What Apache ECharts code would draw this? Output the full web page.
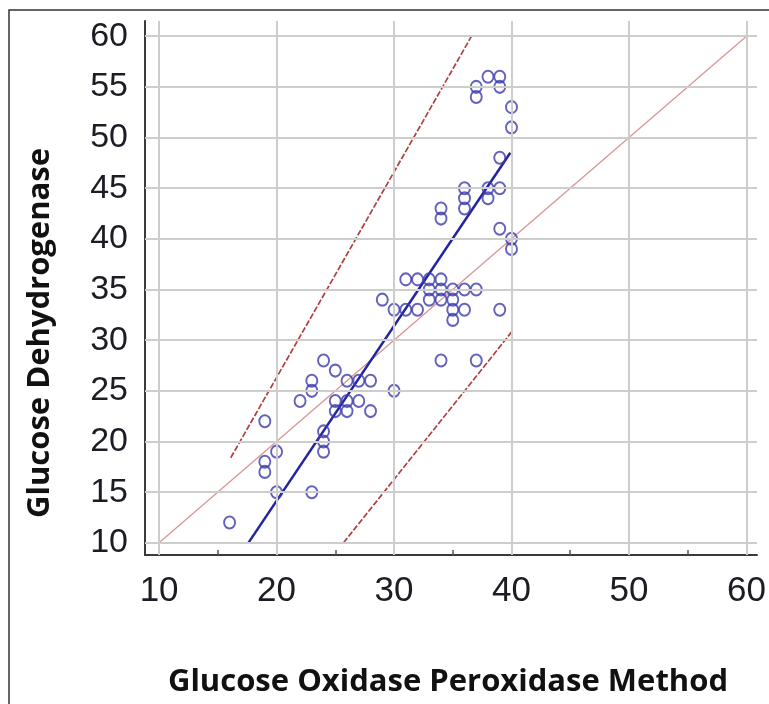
<!DOCTYPE html>
<html>
<head>
<meta charset="utf-8">
<script src="https://cdn.jsdelivr.net/npm/echarts@6/dist/echarts.min.js"></script>
<style>
html, body { margin: 0; padding: 0; background: #fff; }
#myChart { width: 769px; height: 704px; }
</style>
</head>
<body>
<div id="myChart"></div>
<script>
// tick values
const xTicks = [10, 20, 30, 40, 50, 60];
const xMinorTicks = [10, 15, 20, 25, 30, 35, 40, 45, 50, 55, 60];
const yTicks = [10, 15, 20, 25, 30, 35, 40, 45, 50, 55, 60];

// Glucose Oxidase Peroxidase (x) vs Glucose Dehydrogenase (y)
const gopValues = [16, 19, 19, 19, 20, 20, 23,
    22, 23, 23, 24, 25, 24, 24, 24,
    25, 26, 27, 25, 26, 28, 26, 27, 28, 30,
    29, 30, 31, 32, 31, 32, 33, 34, 33, 33, 34, 34, 35, 36, 37, 35, 35, 36, 35, 39, 34, 37,
    34, 34, 36, 36, 36, 38, 38, 39, 39, 39, 40, 40, 40, 40, 37, 37, 38, 39, 39];
const gdhValues = [12, 22, 18, 17, 19, 15, 15,
    24, 26, 25, 28, 27, 21, 20, 19,
    24, 24, 24, 23, 23, 23, 26, 26, 26, 25,
    34, 33, 33, 33, 36, 36, 36, 36, 35, 34, 35, 34, 35, 35, 35, 34, 33, 33, 32, 33, 28, 28,
    43, 42, 45, 44, 43, 45, 44, 45, 48, 41, 40, 39, 53, 51, 55, 54, 56, 56, 55];

// reference lines (end points)
const identityLine = [[10, 10], [60, 60]];
const upperLimit = [[16.1, 18.4], [36.6, 60]];
const lowerLimit = [[25.7, 10], [40, 30.8]];
const regressionLine = [[17.6, 10], [39.9, 48.5]];

let myChart = echarts.init(document.getElementById('myChart'));

let points = gopValues.map((x, i) => [x, gdhValues[i]]);

let gridLines = [];
xTicks.forEach(v => gridLines.push({ xAxis: v }));
yTicks.forEach(v => gridLines.push({ yAxis: v }));

let option = {
    animation: false,
    backgroundColor: '#fff',
    grid: { left: 145, top: 21, right: 12, bottom: 149 },
    xAxis: {
        type: 'value',
        min: 8.8,
        max: 60.9,
        axisLine: { show: true, lineStyle: { color: '#3a3a3a', width: 2 } },
        axisTick: { show: true, inside: true, length: 5, customValues: xMinorTicks, lineStyle: { color: '#555', width: 1.5 } },
        axisLabel: { customValues: xTicks, fontSize: 35, color: '#1c1c24', margin: 19, fontFamily: 'Liberation Sans' },
        splitLine: { show: false }
    },
    yAxis: {
        type: 'value',
        min: 8.8,
        max: 61.5,
        axisLine: { show: true, lineStyle: { color: '#3a3a3a', width: 2 } },
        axisTick: { show: true, inside: true, length: 12, customValues: yTicks, lineStyle: { color: '#555', width: 1.5 } },
        axisLabel: { customValues: yTicks, fontSize: 34, color: '#1c1c24', margin: 17, fontFamily: 'Liberation Sans' },
        splitLine: { show: false }
    },
    graphic: [
        {
            type: 'rect',
            shape: { x: 9, y: 10, width: 780, height: 720 },
            style: { fill: 'none', stroke: '#333', lineWidth: 1.5 },
            z: 100
        },
        {
            type: 'text',
            x: 40,
            y: 333,
            rotation: Math.PI / 2,
            style: {
                text: 'Glucose Dehydrogenase',
                font: 'bold 31px "Open Sans"',
                fill: '#111',
                textAlign: 'center',
                textVerticalAlign: 'middle'
            }
        },
        {
            type: 'text',
            x: 448,
            y: 682,
            style: {
                text: 'Glucose Oxidase Peroxidase Method',
                font: 'bold 31px "Open Sans"',
                fill: '#111',
                textAlign: 'center',
                textVerticalAlign: 'middle'
            }
        }
    ],
    series: [
        {
            type: 'line',
            data: [],
            z: 1,
            markLine: {
                silent: true,
                symbol: 'none',
                animation: false,
                label: { show: false },
                lineStyle: { color: '#cdcdcd', width: 2, type: 'solid' },
                data: gridLines
            }
        },
        {
            type: 'line',
            data: identityLine,
            symbol: 'none',
            z: 2,
            lineStyle: { color: '#d99595', width: 1.3 }
        },
        {
            type: 'line',
            data: upperLimit,
            symbol: 'none',
            z: 2,
            lineStyle: { color: '#b04040', width: 1.7, type: [6, 2] }
        },
        {
            type: 'line',
            data: lowerLimit,
            symbol: 'none',
            z: 2,
            lineStyle: { color: '#b04040', width: 1.7, type: [6, 2] }
        },
        {
            type: 'line',
            data: regressionLine,
            symbol: 'none',
            z: 3,
            lineStyle: { color: '#2424a0', width: 2.5 }
        },
        {
            type: 'scatter',
            data: points,
            symbol: 'circle',
            symbolSize: [11, 12],
            z: 4,
            itemStyle: { color: 'rgba(255,255,255,0)', borderColor: '#3c3cac', borderWidth: 2 }
        }
    ]
};
myChart.setOption(option);
</script>
</body>
</html>
